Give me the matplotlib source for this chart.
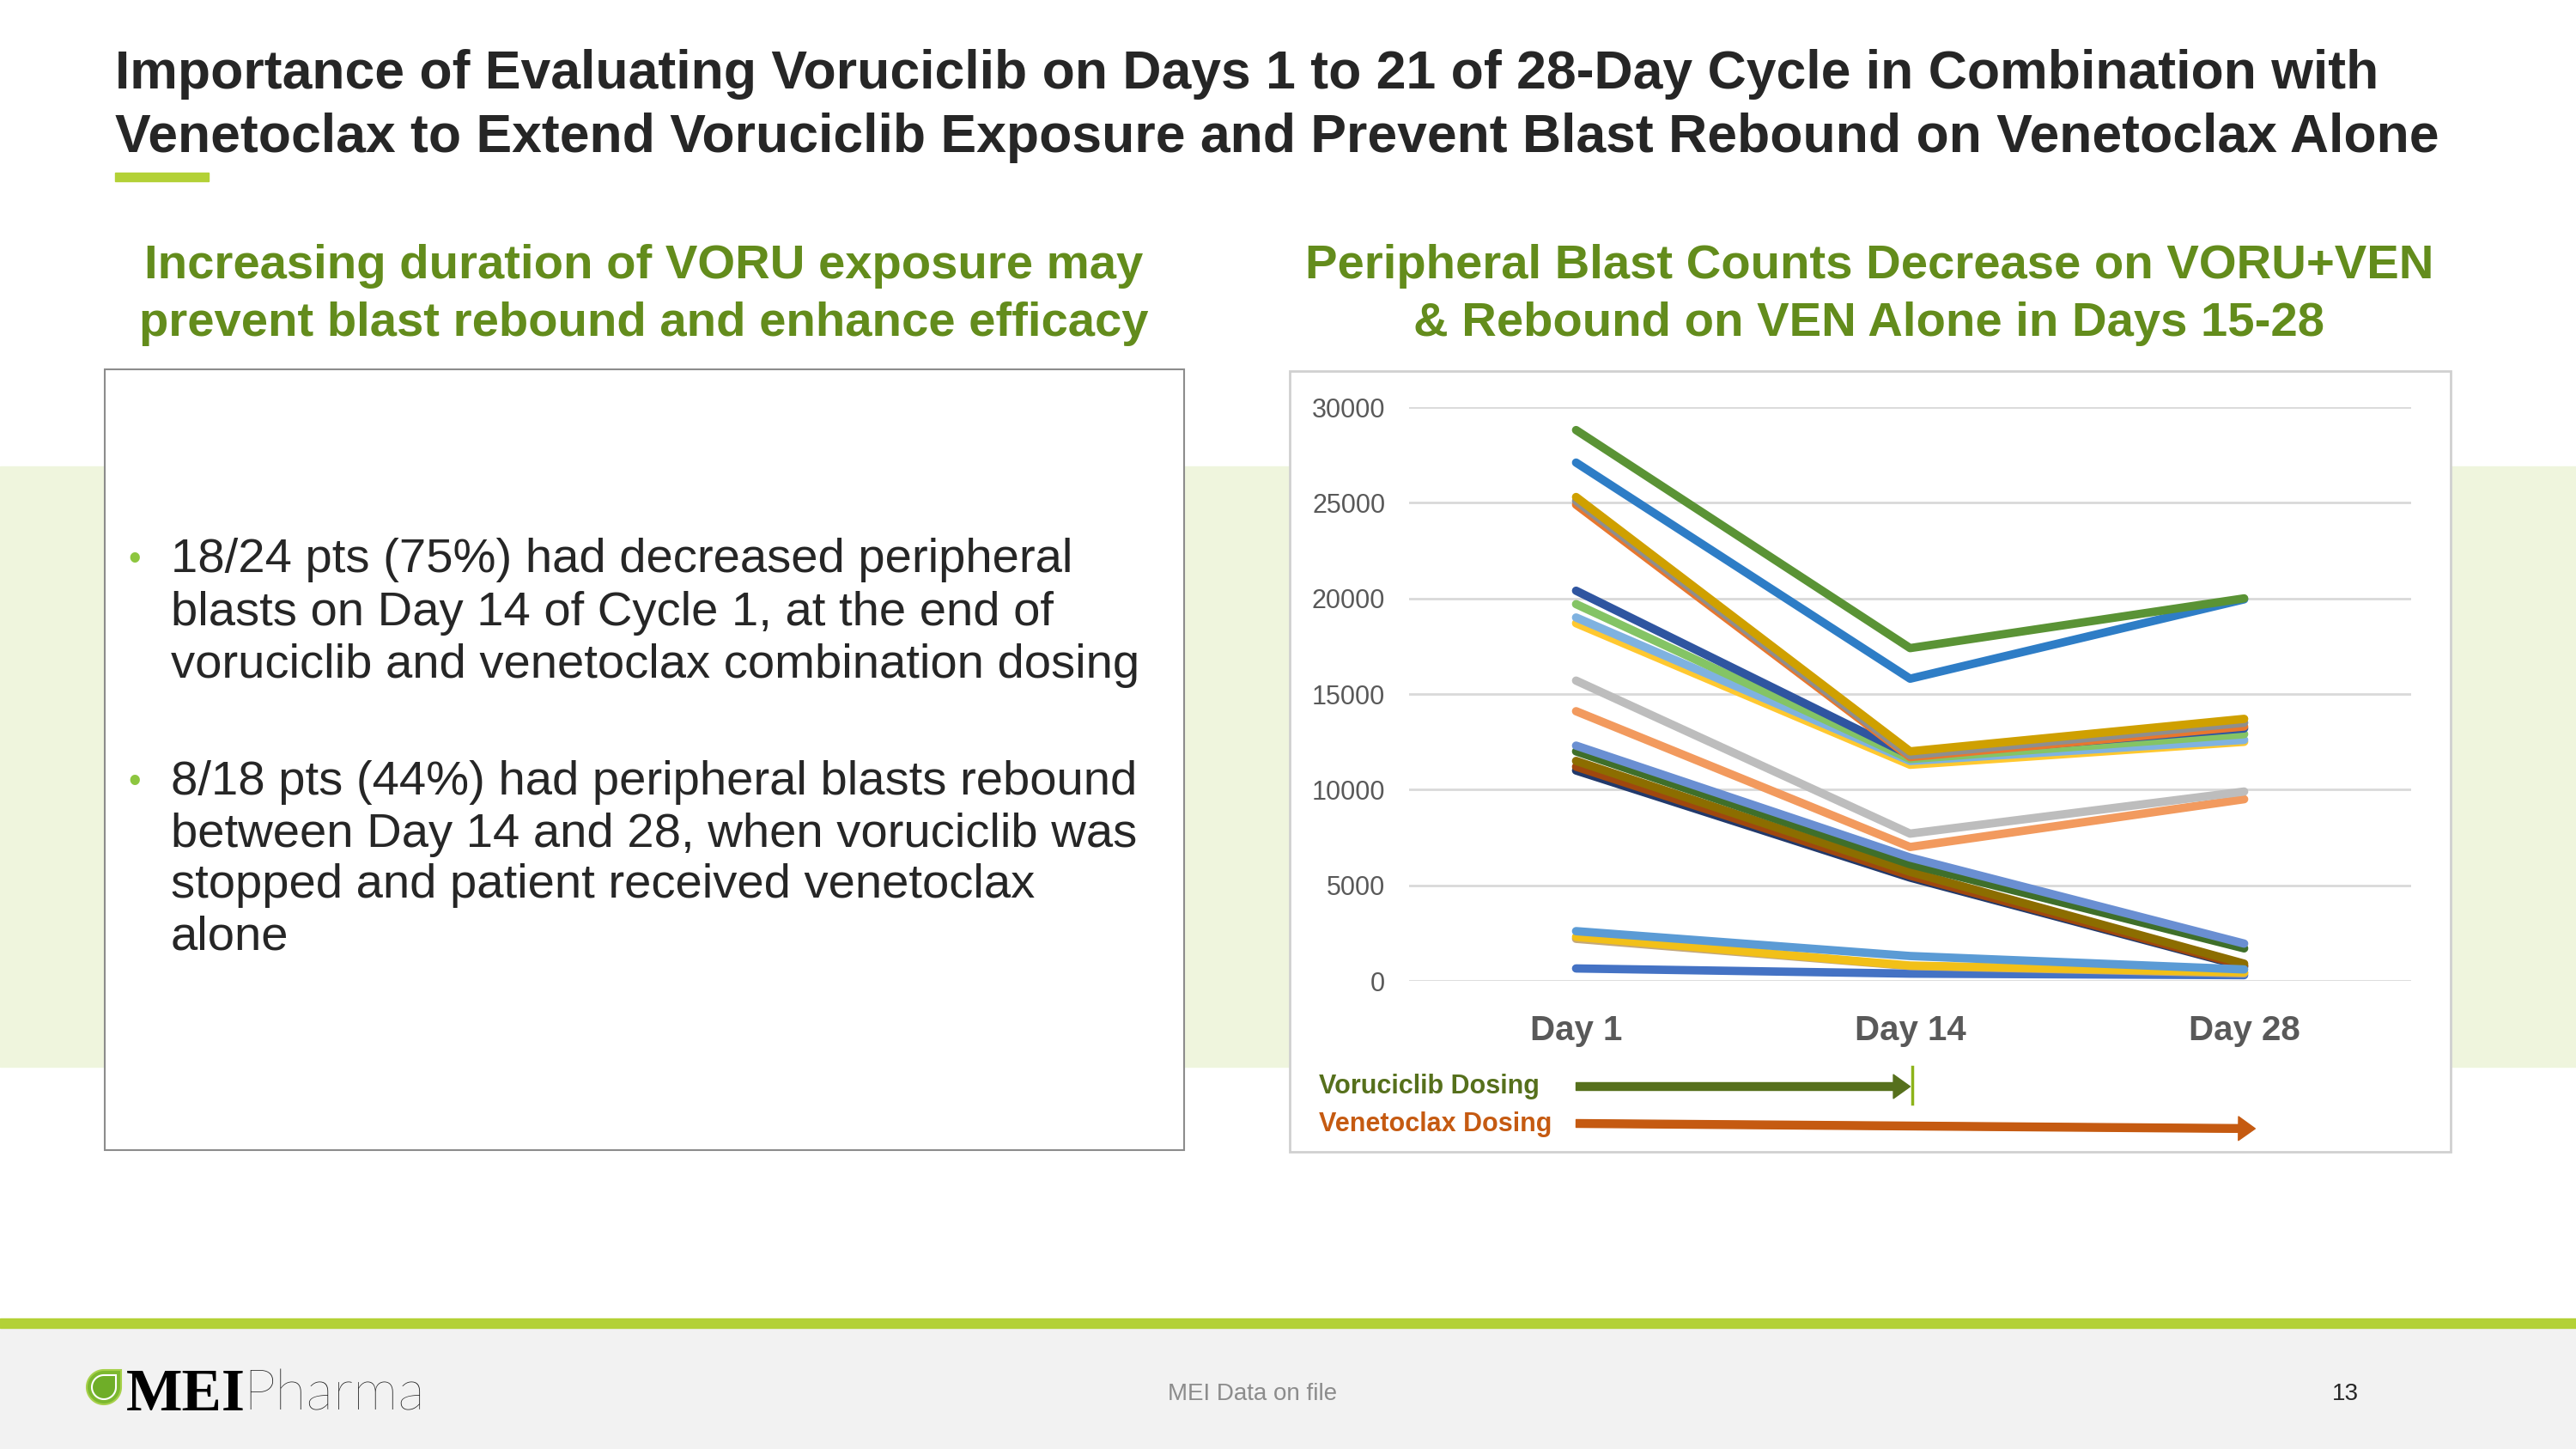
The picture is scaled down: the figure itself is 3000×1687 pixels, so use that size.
import matplotlib
matplotlib.use("Agg")
import matplotlib.pyplot as plt
import numpy as np
from matplotlib import transforms
from matplotlib.lines import Line2D
from matplotlib.patches import FancyArrowPatch, Polygon, Rectangle

W, H, DPI = 3000, 1687, 100

days = ["Day 1", "Day 14", "Day 28"]
y_ticks = [0, 5000, 10000, 15000, 20000, 25000, 30000]

# peripheral blast counts per patient (Day 1, Day 14, Day 28), drawn bottom -> top
blast_counts = [
    [11000, 5400, 750],
    [11200, 5500, 800],
    [11500, 5700, 900],
    [12000, 6100, 1700],
    [12300, 6450, 1950],
    [650, 380, 300],
    [2200, 780, 400],
    [2300, 800, 450],
    [2600, 1300, 600],
    [18700, 11300, 12500],
    [19000, 11500, 12600],
    [19700, 11600, 12900],
    [20400, 11800, 13200],
    [24900, 11700, 13300],
    [25100, 11800, 13500],
    [25300, 12000, 13700],
    [14100, 7000, 9500],
    [15700, 7700, 9900],
    [27100, 15800, 19950],
    [28800, 17400, 20000],
]
line_colors = [
    "#22396B", "#A0470E", "#8C6D00", "#3F6F2A", "#6A8FD2",
    "#4472C4", "#C4A87A", "#F2C018", "#5B9BD5",
    "#FFC830", "#7FB2E0", "#84C465", "#2F55A0",
    "#E8772E", "#8E8E8E", "#CFA000",
    "#F29A5E", "#BDBDBD", "#2E7DC6", "#5A9335",
]

title_lines = [
    "Importance of Evaluating Voruciclib on Days 1 to 21 of 28-Day Cycle in Combination with",
    "Venetoclax to Extend Voruciclib Exposure and Prevent Blast Rebound on Venetoclax Alone",
]
left_heading = ["Increasing duration of VORU exposure may",
                "prevent blast rebound and enhance efficacy"]
right_heading = ["Peripheral Blast Counts Decrease on VORU+VEN",
                 "& Rebound on VEN Alone in Days 15-28"]
bullets = [
    ["18/24 pts (75%) had decreased peripheral",
     "blasts on Day 14 of Cycle 1, at the end of",
     "voruciclib and venetoclax combination dosing"],
    ["8/18 pts (44%) had peripheral blasts rebound",
     "between Day 14 and 28, when voruciclib was",
     "stopped and patient received venetoclax",
     "alone"],
]

SANS = ["Liberation Sans", "DejaVu Sans"]
NARROW = ["Liberation Sans Narrow", "Liberation Sans", "DejaVu Sans"]
DARK = "#262626"
OLIVE = "#638C1C"


def fx(px):
    return px / W


def fy(py):
    return 1 - py / H


fig = plt.figure(figsize=(W / DPI, H / DPI), dpi=DPI)
fig.patch.set_facecolor("white")

# --- slide background pieces (below the axes) ------------------------------
fig.add_artist(Rectangle((0, fy(1242)), 1, (1242 - 543) / H, color="#EFF5DD", zorder=-3))
fig.add_artist(Rectangle((0, 0), 1, fy(1546), color="#F2F2F2", zorder=-3))
fig.add_artist(Rectangle((0, fy(1546)), 1, 11 / H, color="#B3D136", zorder=-3))
fig.add_artist(Rectangle((fx(134), fy(211)), fx(109), 10 / H, color="#B3D136", zorder=-3))

fig.add_artist(Rectangle((fx(122), fy(1339)), fx(1257), (1339 - 430) / H,
                         fc="white", ec="#8C8C8C", lw=1.5, zorder=-2))
fig.add_artist(Rectangle((fx(1502), fy(1341)), fx(1352), (1341 - 432) / H,
                         fc="white", ec="#D0D0D0", lw=2, zorder=-2))

# --- texts --------------------------------------------------------------------
for line, base in zip(title_lines, [103, 177]):
    fig.text(fx(134), fy(base), line, ha="left", va="baseline", fontsize=45,
             fontweight="bold", color=DARK, family=SANS)

for lines, cx in [(left_heading, 750), (right_heading, 2177)]:
    for line, cy in zip(lines, [310, 377]):
        fig.text(fx(cx), fy(cy), line, ha="center", va="center", fontsize=40.5,
                 fontweight="bold", color=OLIVE, family=SANS)

rows = [[652, 714, 775], [911, 972, 1031, 1092]]
for para, ys in zip(bullets, rows):
    fig.text(fx(149), fy(ys[0]), "\u2022", ha="left", va="center", fontsize=30,
             color="#8DC63F", family=SANS)
    for line, cy in zip(para, ys):
        fig.text(fx(199), fy(cy), line, ha="left", va="center", fontsize=40.5,
                 color=DARK, family=SANS)

# --- chart ------------------------------------------------------------------
ax = fig.add_axes([fx(1641), fy(1142), fx(2808 - 1641), (1142 - 474) / H])
ax.set_facecolor("none")
xs = np.arange(len(days)) + 0.5
for vals, col in zip(blast_counts, line_colors):
    ax.plot(xs, vals, color=col, lw=7, solid_capstyle="round",
            solid_joinstyle="round", clip_on=False)
ax.set_xlim(0, len(days))
ax.set_ylim(0, 30000)
ax.set_yticks(y_ticks)
ax.set_yticklabels([str(v) for v in y_ticks], family=NARROW, fontsize=22, color="#595959")
ax.set_xticks(xs)
ax.set_xticklabels(days, family=NARROW, fontsize=29, fontweight="bold", color="#595959")
ax.tick_params(axis="y", length=0, pad=20)
ax.tick_params(axis="x", length=0, pad=28)
ax.yaxis.grid(True, color="#D9D9D9", lw=2)
ax.set_axisbelow(True)
for s in ax.spines.values():
    s.set_visible(False)

# dosing arrows, tied to the day positions on the x axis
blend = transforms.blended_transform_factory(ax.transData, fig.transFigure)
style = "simple,head_width=2.0,head_length=1.4,tail_width=0.65"
fig.add_artist(FancyArrowPatch((xs[0], fy(1265)), (xs[1], fy(1265)), transform=blend,
                               arrowstyle=style, mutation_scale=10, color="#56701C",
                               shrinkA=0, shrinkB=0, zorder=3))
fig.add_artist(Line2D([xs[1] + 0.006] * 2, [fy(1242), fy(1285)], transform=blend,
                      color="#8DB31A", lw=2.5, zorder=3))
fig.add_artist(FancyArrowPatch((xs[0], fy(1308)), (xs[2] + 0.033, fy(1314)), transform=blend,
                               arrowstyle=style, mutation_scale=10, color="#C55A11",
                               shrinkA=0, shrinkB=0, zorder=3))
fig.text(fx(1536), fy(1265), "Voruciclib Dosing", ha="left", va="center", fontsize=22,
         fontweight="bold", color="#56701C", family=NARROW)
fig.text(fx(1536), fy(1309), "Venetoclax Dosing", ha="left", va="center", fontsize=22,
         fontweight="bold", color="#C55A11", family=NARROW)

# --- footer -------------------------------------------------------------------
theta = np.linspace(np.pi / 2, 2 * np.pi, 60)
for r, fc, ec in [(20, "#7CB82F", "#A6D04A"), (14, "#6FAE28", "white")]:
    cx, cy = 121, H - 1615
    pts = np.column_stack([cx + r * np.cos(theta), cy + r * np.sin(theta)])
    pts = np.vstack([pts, [cx + r, cy + r]]) / DPI
    fig.add_artist(Polygon(pts, closed=True, transform=fig.dpi_scale_trans,
                           fc=fc, ec=ec, lw=1.5, zorder=2))
fig.text(fx(147), fy(1642), "MEI", ha="left", va="baseline", fontsize=50,
         fontweight="bold", color="black", family=["Liberation Serif", "DejaVu Serif"])
fig.text(fx(283), fy(1642), "Pharma", ha="left", va="baseline", fontsize=48,
         fontweight="light", color="#1A1A1A", family=["Lato", "Roboto", "DejaVu Sans"])
fig.text(fx(1360), fy(1630), "MEI Data on file", ha="left", va="baseline", fontsize=20,
         color="#8C8C8C", family=NARROW)
fig.text(fx(2716), fy(1630), "13", ha="left", va="baseline", fontsize=20,
         color=DARK, family=NARROW)

fig.savefig("out.png", dpi=DPI)
